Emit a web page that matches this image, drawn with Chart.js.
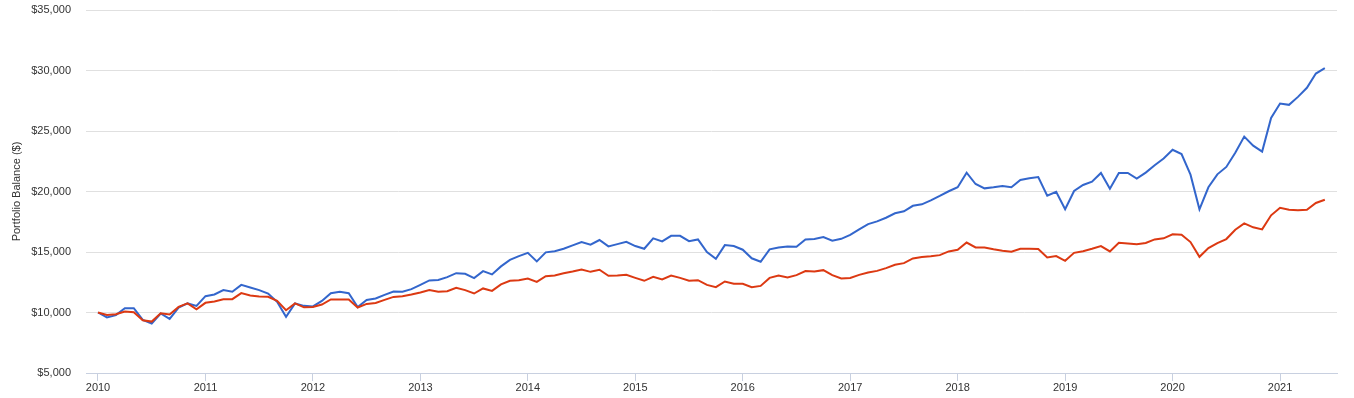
<!DOCTYPE html>
<html>
<head>
<meta charset="utf-8">
<title>Portfolio Growth</title>
<script src="https://cdn.jsdelivr.net/npm/chart.js@4"></script>
<style>
  body { margin: 0; background: #fff; }
  #wrap { position: relative; width: 1354px; height: 398px; }
</style>
</head>
<body>
<div id="wrap"><canvas id="growthChart"></canvas></div>
<script>
// Monthly balances, Jan 2010 .. Jun 2021
const startYear = 2010;
const yearTicks = [2010, 2011, 2012, 2013, 2014, 2015, 2016, 2017, 2018, 2019, 2020, 2021];
const yTicks = [5000, 10000, 15000, 20000, 25000, 30000, 35000];

const portfolio1 = [
  10000, 9590, 9780, 10360, 10360, 9390, 9090, 9920, 9470, 10410, 10750, 10550,
  11350, 11490, 11850, 11710, 12280, 12070, 11850, 11570, 10880, 9640, 10750, 10550,
  10500, 10960, 11600, 11710, 11600, 10460, 11040, 11160, 11460, 11740, 11710, 11930,
  12280, 12650, 12680, 12920, 13250, 13200, 12840, 13420, 13150, 13810, 14350, 14660,
  14930, 14220, 14970, 15070, 15270, 15550, 15820, 15600, 15990, 15460, 15650, 15840,
  15490, 15270, 16130, 15880, 16340, 16340, 15900, 16040, 14990, 14440, 15570, 15490,
  15190, 14480, 14190, 15220, 15380, 15460, 15440, 16040, 16070, 16230, 15930, 16090,
  16420, 16870, 17310, 17530, 17830, 18200, 18360, 18820, 18940, 19270, 19630, 20020,
  20350, 21550, 20620, 20260, 20350, 20460, 20350, 20950, 21090, 21200, 19650, 19980,
  18530, 20040, 20540, 20810, 21530, 20230, 21530, 21530, 21060, 21560, 22170, 22730,
  23450, 23100, 21390, 18530, 20350, 21420, 22030, 23210, 24540, 23790, 23300, 26080,
  27270, 27160, 27820, 28570, 29750, 30200
];

const portfolio2 = [
  10000, 9800, 9860, 10080, 10020, 9360, 9250, 9940, 9830, 10460, 10750, 10270,
  10800, 10910, 11100, 11100, 11600, 11410, 11320, 11300, 10960, 10190, 10750, 10430,
  10460, 10660, 11080, 11080, 11080, 10410, 10710, 10790, 11040, 11290, 11350, 11490,
  11660, 11850, 11710, 11760, 12040, 11850, 11570, 11990, 11790, 12320, 12620, 12670,
  12810, 12530, 13000, 13060, 13250, 13390, 13560, 13360, 13530, 13030, 13060, 13110,
  12860, 12620, 12950, 12730, 13060, 12860, 12620, 12670, 12280, 12090, 12560, 12370,
  12380, 12090, 12200, 12860, 13060, 12900, 13090, 13420, 13390, 13500, 13090, 12810,
  12860, 13110, 13310, 13440, 13670, 13940, 14080, 14470, 14580, 14640, 14740, 15050,
  15180, 15780, 15380, 15380, 15220, 15100, 15020, 15270, 15270, 15250, 14550, 14660,
  14270, 14930, 15070, 15270, 15490, 15050, 15760, 15710, 15650, 15740, 16040, 16130,
  16460, 16430, 15820, 14600, 15320, 15740, 16070, 16840, 17370, 17040, 16870, 18030,
  18660, 18490, 18460, 18490, 19050, 19320
];

const toPoints = arr => arr.map((v, i) => ({ x: i, y: v }));
const fontFamily = "'Liberation Sans', Arial, Helvetica, sans-serif";
const axisColor = '#c8d0e0';

new Chart(document.getElementById('growthChart'), {
  type: 'line',
  data: {
    datasets: [
      {
        label: 'Portfolio 1',
        data: toPoints(portfolio1),
        borderColor: '#3366cc',
        borderWidth: 2,
        pointRadius: 0,
        tension: 0,
        order: 2
      },
      {
        label: 'Portfolio 2',
        data: toPoints(portfolio2),
        borderColor: '#dc3912',
        borderWidth: 2,
        pointRadius: 0,
        tension: 0,
        order: 1
      }
    ]
  },
  options: {
    responsive: true,
    maintainAspectRatio: false,
    animation: false,
    layout: { padding: { top: 10, right: 17, bottom: 0, left: 0 } },
    plugins: {
      legend: { display: false },
      tooltip: { enabled: false }
    },
    scales: {
      x: {
        type: 'linear',
        min: -1.34,
        max: 138.36,
        afterBuildTicks: scale => {
          scale.ticks = yearTicks.map(y => ({ value: (y - startYear) * 12 }));
        },
        afterFit: scale => { scale.height = 25; },
        ticks: {
          callback: v => String(startYear + Math.round(v / 12)),
          font: { family: fontFamily, size: 11 },
          color: '#333',
          padding: 0,
          maxRotation: 0
        },
        grid: {
          drawOnChartArea: false,
          drawTicks: true,
          tickLength: 8,
          color: axisColor
        },
        border: { color: axisColor, width: 1 }
      },
      y: {
        min: 5000,
        max: 35000,
        afterBuildTicks: scale => {
          scale.ticks = yTicks.map(v => ({ value: v }));
        },
        afterFit: scale => {
          // keep the label padding from pushing the plot down
          scale.width = 86;
          scale.paddingTop = 0;
          scale.paddingBottom = 0;
        },
        ticks: {
          callback: v => '$' + v.toLocaleString('en-US'),
          font: { family: fontFamily, size: 11 },
          color: '#333',
          padding: 15
        },
        grid: {
          color: '#e0e0e0',
          drawTicks: false
        },
        border: { display: false },
        title: {
          display: true,
          text: 'Portfolio Balance ($)',
          font: { family: fontFamily, size: 11 },
          color: '#333',
          padding: { top: 10, bottom: 0 }
        }
      }
    }
  }
});
</script>
</body>
</html>
